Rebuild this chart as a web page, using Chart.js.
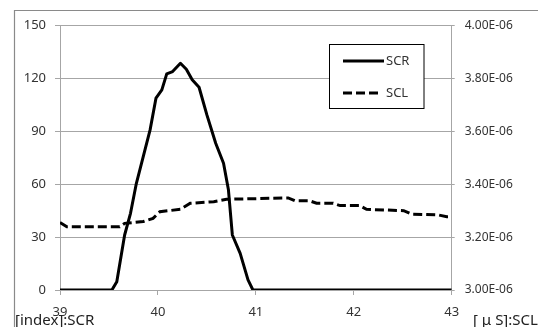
<!DOCTYPE html>
<html>
<head>
<meta charset="utf-8">
<script src="https://cdn.jsdelivr.net/npm/chart.js"></script>
<style>
    body { margin: 0; background: #fff; }
    #wrap { position: relative; width: 538px; height: 327px; overflow: hidden; }
    .axis-note { position: absolute; font-family: "Noto Sans", sans-serif; font-size: 15px; color: #222; line-height: 18px; white-space: nowrap; }
</style>
</head>
<body>
<div id="wrap">
    <canvas id="chart" width="538" height="327"></canvas>
    <div class="axis-note" style="left:15px; top:310px;">[index]:SCR</div>
    <div class="axis-note" style="left:473px; top:310px;">[ μ S]:SCL</div>
</div>
<script>
// SCR (left axis) - index values
const scrX = [39, 39.53, 39.58, 39.66, 39.72, 39.78, 39.85, 39.92, 39.98, 40.04, 40.09, 40.15, 40.23, 40.29, 40.35, 40.42, 40.50, 40.59, 40.67, 40.72, 40.76, 40.84, 40.92, 40.97, 43];
const scrY = [0, 0, 4.7, 31.2, 43.5, 60.5, 75.7, 90.8, 108.8, 113.5, 122.6, 123.9, 128.6, 125.2, 119.2, 115, 99.3, 83.2, 71.9, 56.8, 31.2, 20.8, 5.7, 0, 0];

// SCL (right axis) - uS
const sclX = [39, 39.07, 39.61, 39.66, 39.85, 39.95, 40.02, 40.23, 40.33, 40.57, 40.70, 41.33, 41.40, 41.55, 41.62, 41.79, 41.86, 42.06, 42.13, 42.51, 42.59, 42.86, 42.95, 43];
const sclY = [3.255e-6, 3.239e-6, 3.239e-6, 3.252e-6, 3.259e-6, 3.271e-6, 3.296e-6, 3.305e-6, 3.328e-6, 3.334e-6, 3.343e-6, 3.348e-6, 3.337e-6, 3.337e-6, 3.328e-6, 3.328e-6, 3.319e-6, 3.319e-6, 3.305e-6, 3.300e-6, 3.287e-6, 3.284e-6, 3.277e-6, 3.277e-6];

const xTicks = [39, 40, 41, 42, 43];
const leftTicks = [0, 30, 60, 90, 120, 150];
const rightTicks = [3.0e-6, 3.2e-6, 3.4e-6, 3.6e-6, 3.8e-6, 4.0e-6];

const GRID = '#a6a6a6';
const TXT = '#333';
const FONT = '"Noto Sans", sans-serif';

function sci(v) {
    const [m, e] = v.toExponential(2).split('e');
    const n = parseInt(e, 10);
    return m + 'E' + (n < 0 ? '-' : '+') + String(Math.abs(n)).padStart(2, '0');
}

// outer frame of the chart area (only top and left edges are in view)
const framePlugin = {
    id: 'frame',
    beforeDraw(chart) {
        const ctx = chart.ctx;
        ctx.save();
        ctx.strokeStyle = '#8a8a8a';
        ctx.lineWidth = 1.2;
        ctx.beginPath();
        ctx.moveTo(14.5, 327);
        ctx.lineTo(14.5, 10.5);
        ctx.lineTo(538, 10.5);
        ctx.stroke();
        ctx.restore();
    }
};

// boxed legend inside the plot, like the excel one
const boxLegend = {
    id: 'boxLegend',
    afterDatasetsDraw(chart) {
        const ctx = chart.ctx;
        const x = 329.5, y = 44.5, w = 94.5, h = 64;
        ctx.save();
        ctx.fillStyle = '#fff';
        ctx.fillRect(x, y, w, h);
        ctx.strokeStyle = '#000';
        ctx.lineWidth = 1;
        ctx.strokeRect(x, y, w, h);
        const rows = [61, 93];
        chart.data.datasets.forEach((ds, i) => {
            ctx.strokeStyle = ds.borderColor;
            ctx.lineWidth = ds.borderWidth;
            ctx.setLineDash(ds.borderDash || []);
            ctx.beginPath();
            ctx.moveTo(343, rows[i]);
            ctx.lineTo(i === 0 ? 384 : 380, rows[i]);
            ctx.stroke();
            ctx.setLineDash([]);
            ctx.fillStyle = TXT;
            ctx.font = '13px ' + FONT;
            ctx.textBaseline = 'middle';
            ctx.fillText(ds.label, 386, rows[i]);
        });
        ctx.restore();
    }
};

new Chart(document.getElementById('chart'), {
    type: 'line',
    data: {
        datasets: [{
            label: 'SCR',
            data: scrX.map((x, i) => ({ x: x, y: scrY[i] })),
            borderColor: '#000',
            borderWidth: 3,
            pointRadius: 0,
            tension: 0,
            borderJoinStyle: 'round',
            yAxisID: 'y'
        }, {
            label: 'SCL',
            data: sclX.map((x, i) => ({ x: x, y: sclY[i] })),
            borderColor: '#000',
            borderWidth: 3,
            borderDash: [9, 4],
            pointRadius: 0,
            tension: 0,
            yAxisID: 'y2'
        }]
    },
    options: {
        responsive: false,
        animation: false,
        layout: { padding: { top: 25.5, left: 0, right: 0, bottom: 0 } },
        plugins: { legend: { display: false }, tooltip: { enabled: false } },
        scales: {
            x: {
                type: 'linear',
                min: 39, max: 43,
                afterBuildTicks: s => { s.ticks = xTicks.map(v => ({ value: v })); },
                afterFit: s => { s.height = 37; },
                grid: { drawOnChartArea: false, tickLength: 5, tickColor: GRID },
                border: { color: GRID },
                ticks: { color: TXT, font: { family: FONT, size: 13 }, padding: 9, maxRotation: 0 }
            },
            y: {
                position: 'left',
                min: 0, max: 150,
                afterBuildTicks: s => { s.ticks = leftTicks.map(v => ({ value: v })); },
                afterFit: s => { s.width = 60; },
                grid: { color: GRID, tickLength: 5, tickColor: GRID },
                border: { color: GRID },
                ticks: { color: TXT, font: { family: FONT, size: 13 }, padding: 9 }
            },
            y2: {
                position: 'right',
                min: 3.0e-6, max: 4.0e-6,
                afterBuildTicks: s => { s.ticks = rightTicks.map(v => ({ value: v })); },
                afterFit: s => { s.width = 86.3; },
                grid: { drawOnChartArea: false, tickLength: 3, tickColor: GRID },
                border: { color: GRID },
                ticks: { color: TXT, font: { family: FONT, size: 12 }, padding: 10, callback: v => sci(v) }
            }
        }
    },
    plugins: [framePlugin, boxLegend]
});
</script>
</body>
</html>
